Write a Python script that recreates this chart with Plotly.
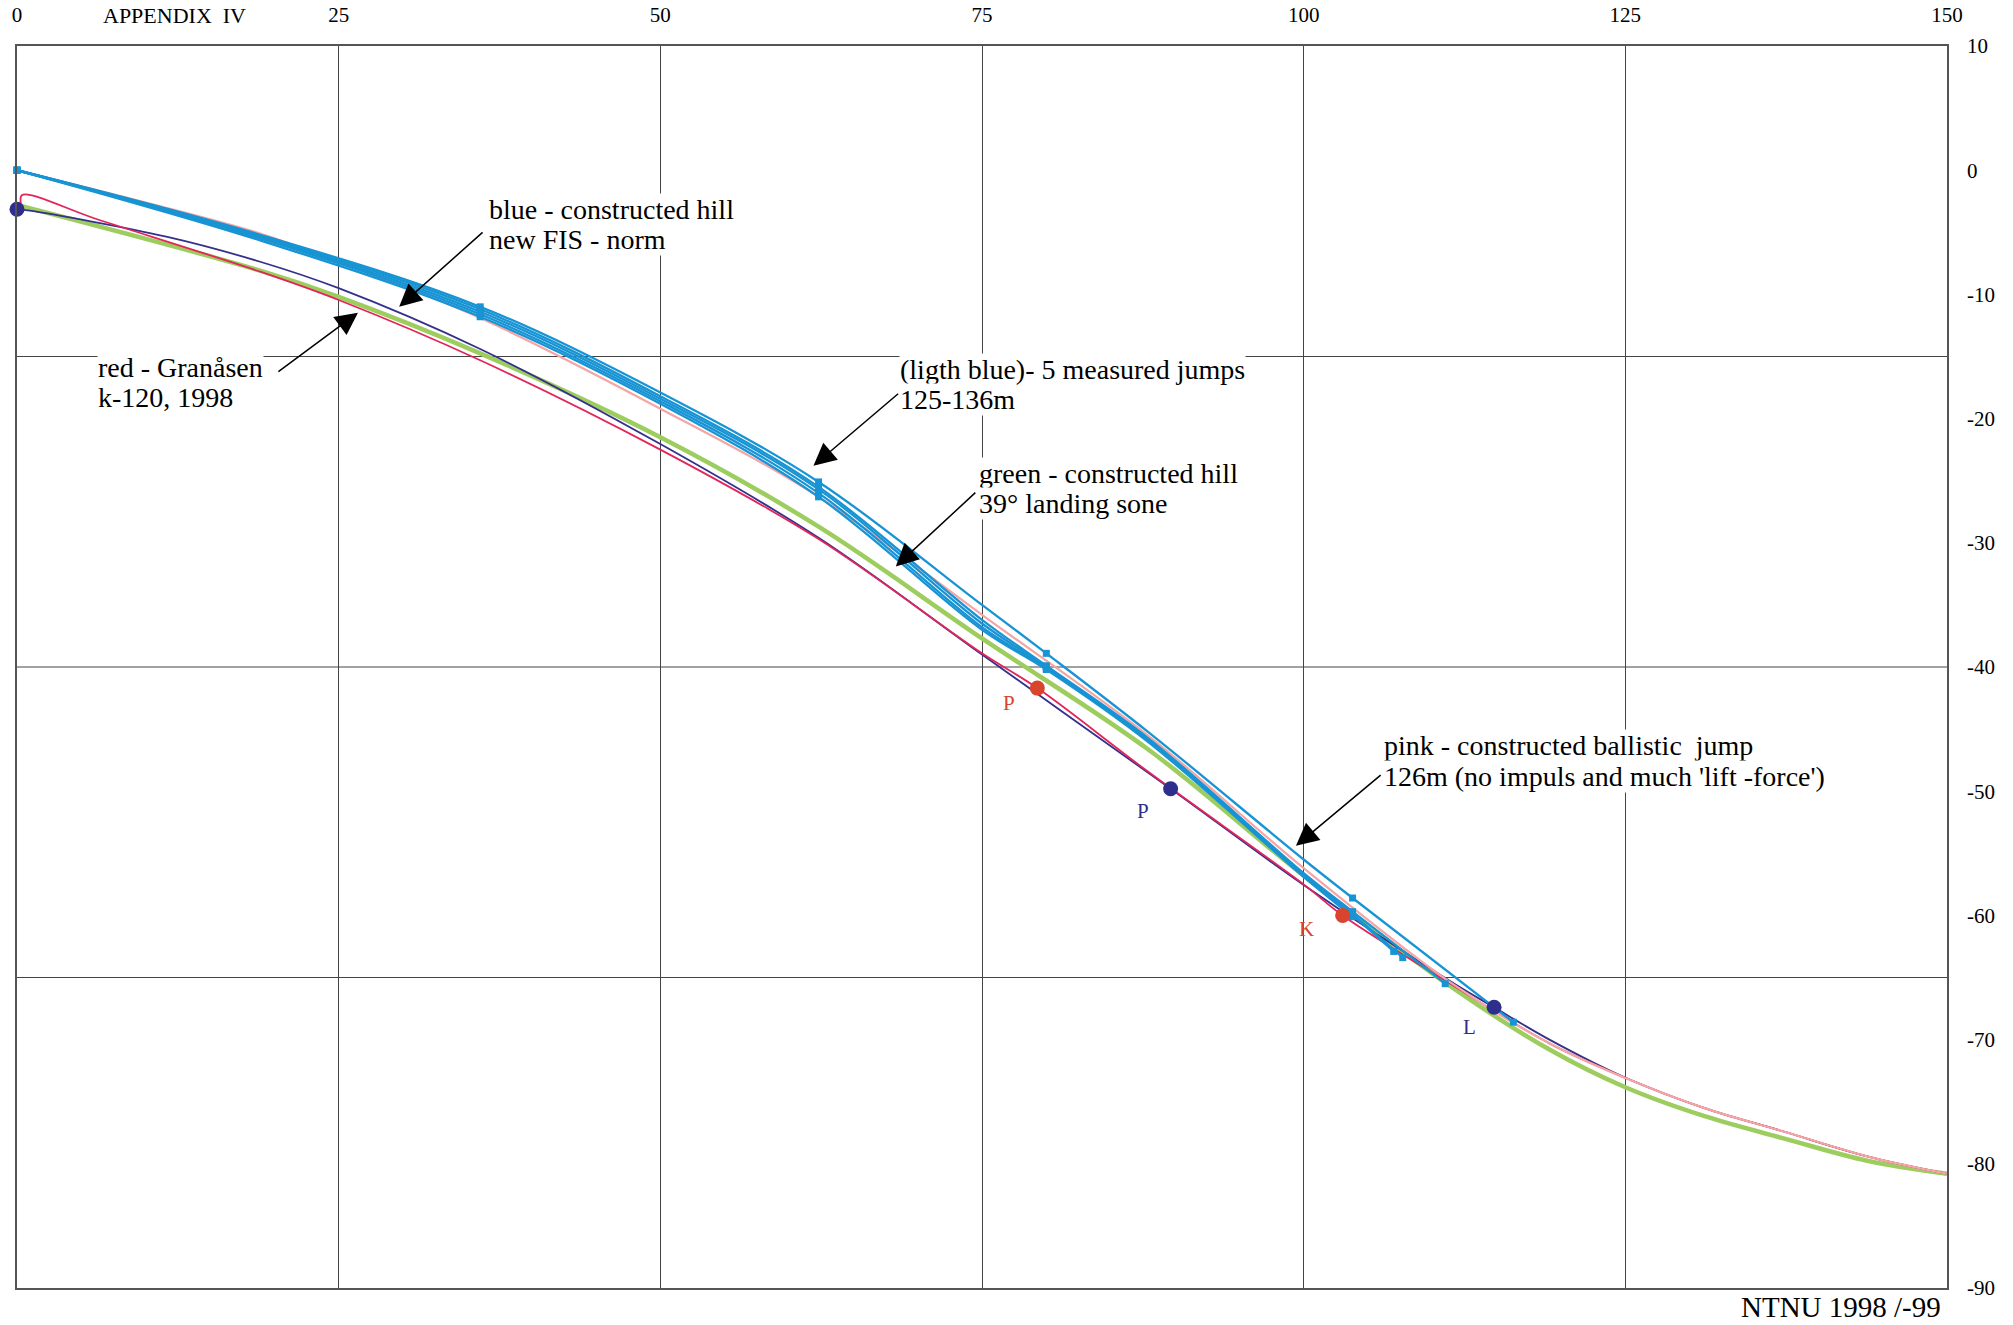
import plotly.graph_objects as go

# ---------------- data ----------------
# pink - constructed ballistic jump 126 m
pink_x = [0, 10, 18.9, 25, 36, 50, 62.3, 75, 88, 100, 111.4, 119.1, 125, 131.1, 137.3, 143.8, 150]
pink_y = [0, -2.6, -5.1, -7.4, -11.9, -19.2, -26.3, -35.8, -45.6, -56.2, -65.4, -70.3, -73.1, -75.5, -77.4, -79.4, -80.8]

# blue (navy) - constructed hill, new FIS norm
navy_x = [0, 1.0, 11.6, 18.9, 25, 36, 50, 62.3, 75, 89.66, 100, 111.4, 114.8, 119.1, 125, 131.1, 137.3, 143.8, 150]
navy_y = [-3.15, -3.26, -5.35, -7.37, -9.5, -14.4, -22.05, -29.6, -39.0, -49.8, -57.55, -65.3, -67.4, -70.0, -73.07, -75.5, -77.4, -79.4, -80.8]

# red - Granåsen k-120, 1998
red_x = [0.3, 0.4, 6.45, 18.9, 25, 36, 50, 62.3, 75, 79.3, 88, 100, 103.03, 111.4, 119.1, 125, 131.1, 137.3, 143.8, 150]
red_y = [-2.7, -2.0, -4.03, -8.17, -10.45, -15.3, -22.5, -29.7, -38.9, -41.7, -48.5, -57.5, -60.0, -65.5, -70.3, -73.07, -75.5, -77.4, -79.4, -80.8]

# green - constructed hill, 39 deg landing zone
green_x = [0, 18.9, 25, 36, 50, 62.3, 75, 88, 100, 111.4, 119.1, 125, 131.1, 137.3, 143.8, 150]
green_y = [-2.8, -8.09, -10.2, -14.75, -21.5, -28.7, -37.7, -46.7, -56.8, -65.7, -70.8, -73.84, -76.15, -77.95, -79.75, -80.8]

# light blue - 5 measured jumps (125-136 m)
jump_x = [
    [0, 18.9, 36, 50, 62.3, 75, 80, 88, 100, 103.8, 116.3],
    [0, 18.9, 36, 50, 62.3, 75, 80, 88, 100, 103.8, 111.0],
    [0, 18.9, 36, 50, 62.3, 75, 80, 88, 100, 103.8, 107.7],
    [0, 18.9, 36, 50, 62.3, 75, 80, 88, 100, 103.8, 107.0],
    [0, 18.9, 36, 50, 62.3, 75, 80, 88, 100, 103.8],
]
jump_y = [
    [0, -5.2, -11.0, -17.9, -25.1, -35.0, -38.9, -45.3, -55.5, -58.6, -68.6],
    [0, -5.3, -11.2, -18.2, -25.5, -36.2, -39.9, -45.8, -56.6, -59.7, -65.5],
    [0, -5.4, -11.4, -18.4, -25.7, -36.5, -40.0, -45.9, -56.7, -59.9, -63.4],
    [0, -5.5, -11.6, -18.6, -26.0, -36.8, -40.1, -46.0, -56.8, -60.0, -62.9],
    [0, -5.65, -11.8, -18.8, -26.3, -37.0, -40.2, -46.1, -56.9, -60.1],
]
# measured points with markers (indices into the jump arrays)
jump_marked = [0, 2, 4, 6, 9, 10]

# special points
navy_pts_x = [0, 89.66, 114.8]
navy_pts_y = [-3.15, -49.8, -67.4]
red_pts_x = [79.3, 103.03]
red_pts_y = [-41.7, -60.0]

point_labels = [
    ("P", 77.1, -42.9, "#d8442e"),
    ("P", 87.5, -51.6, "#2e2e8c"),
    ("K", 100.25, -61.1, "#d8442e"),
    ("L", 112.9, -69.0, "#2e2e8c"),
]

x_ticks = [0, 25, 50, 75, 100, 125, 150]
y_ticks = [10, 0, -10, -20, -30, -40, -50, -60, -70, -80, -90]
h_grid = [-15, -40, -65]

# annotation texts: (lines, x_left, y_line1, y_line2, arrow tail (x,y), arrow tip (x,y))
notes = [
    (["blue - constructed hill", "new FIS - norm"], 36.6, -3.16, -5.58, (36.3, -4.9), (29.7, -11.0)),
    (["red - Granåsen", "k-120, 1998"], 6.2, -15.92, -18.34, (20.2, -16.3), (26.5, -11.47)),
    (["(ligth blue)- 5 measured jumps", "125-136m"], 68.57, -16.08, -18.50, (68.6, -17.9), (61.9, -23.8)),
    (["green - constructed hill", "39° landing sone"], 74.71, -24.40, -26.82, (74.6, -25.85), (68.3, -31.9)),
    (["pink - constructed ballistic  jump", "126m (no impuls and much 'lift -force')"], 106.19, -46.36, -48.78, (106.1, -48.6), (99.4, -54.4)),
]

SERIF = "Liberation Serif, Times New Roman, serif"
C_LBLUE = "#1894d4"
C_NAVY = "#34308c"
C_RED = "#e2255a"
C_GREEN = "#9dcd5e"
C_PINK = "#f4a5a5"

fig = go.Figure()

fig.add_trace(go.Scatter(x=green_x, y=green_y, mode="lines",
                         line=dict(color=C_GREEN, width=4.5, shape="spline", smoothing=1)))
fig.add_trace(go.Scatter(x=navy_x, y=navy_y, mode="lines",
                         line=dict(color=C_NAVY, width=1.8, shape="spline", smoothing=1)))
fig.add_trace(go.Scatter(x=red_x, y=red_y, mode="lines",
                         line=dict(color=C_RED, width=1.8, shape="spline", smoothing=1)))
fig.add_trace(go.Scatter(x=pink_x, y=pink_y, mode="lines",
                         line=dict(color=C_PINK, width=2.2, shape="spline", smoothing=1)))

for jx, jy in zip(jump_x, jump_y):
    fig.add_trace(go.Scatter(x=jx, y=jy, mode="lines",
                             line=dict(color=C_LBLUE, width=2.3, shape="spline", smoothing=1)))
    mx = [jx[i] for i in jump_marked if i < len(jx)]
    my = [jy[i] for i in jump_marked if i < len(jy)]
    fig.add_trace(go.Scatter(x=mx, y=my, mode="markers", cliponaxis=False,
                             marker=dict(color=C_LBLUE, size=7, symbol="square")))

fig.add_trace(go.Scatter(x=navy_pts_x, y=navy_pts_y, mode="markers", cliponaxis=False,
                         marker=dict(color="#2e2e8c", size=15)))
fig.add_trace(go.Scatter(x=red_pts_x, y=red_pts_y, mode="markers", cliponaxis=False,
                         marker=dict(color="#d8442e", size=15)))

annotations = []
for txt, lx, ly, c in point_labels:
    annotations.append(dict(x=lx, y=ly, xref="x", yref="y", text=txt, showarrow=False,
                            font=dict(family=SERIF, size=21, color=c)))

for lines, tx, y1, y2, tail, tip in notes:
    annotations.append(dict(x=tip[0], y=tip[1], ax=tail[0], ay=tail[1], xref="x", yref="y",
                            axref="x", ayref="y", text="", showarrow=True, arrowhead=2,
                            arrowsize=3, arrowwidth=1.5, arrowcolor="black"))
    for t, yy in zip(lines, [y1, y2]):
        annotations.append(dict(x=tx, y=yy, xref="x", yref="y", text=t, showarrow=False,
                                xanchor="left", yanchor="middle", bgcolor="white",
                                borderpad=0,
                                font=dict(family=SERIF, size=28, color="black")))

annotations.append(dict(x=6.53, y=1.0246, xref="x", yref="paper", text="APPENDIX  IV",
                        showarrow=False, xanchor="left", yanchor="middle",
                        font=dict(family=SERIF, size=22, color="black")))
annotations.append(dict(x=149.65, y=-0.0153, xref="x", yref="paper", text="NTNU 1998 /-99",
                        showarrow=False, xanchor="right", yanchor="middle",
                        font=dict(family=SERIF, size=29, color="black")))

shapes = []
for hv in h_grid:
    shapes.append(dict(type="line", xref="paper", yref="y", x0=0, x1=1, y0=hv, y1=hv,
                       layer="below", line=dict(color="#444", width=1.2)))

fig.update_layout(
    width=2013, height=1325,
    margin=dict(l=17, r=66, t=46, b=37, autoexpand=False),
    paper_bgcolor="white", plot_bgcolor="white",
    showlegend=False, hovermode=False,
    annotations=annotations, shapes=shapes,
    xaxis=dict(range=[0, 150], side="top", tickvals=x_ticks,
               ticktext=[str(v) for v in x_ticks], automargin=False,
               showgrid=True, gridcolor="#444", gridwidth=1.2,
               showline=True, mirror=True, linecolor="#555", linewidth=1.5,
               ticks="", ticklabelstandoff=14, zeroline=False,
               tickfont=dict(family=SERIF, size=21, color="black")),
    yaxis=dict(range=[-90, 10], side="right", tickvals=y_ticks,
               ticktext=[str(v) for v in y_ticks], automargin=False,
               showgrid=False, showline=True, mirror=True, linecolor="#555", linewidth=1.5,
               ticks="", ticklabelstandoff=14, zeroline=False,
               tickfont=dict(family=SERIF, size=21, color="black")),
    yaxis2=dict(range=[-90, 10], overlaying="y", side="left", tickvals=y_ticks[1:-1],
                showticklabels=False, ticks="outside", ticklen=6, tickcolor="#555",
                automargin=False,
                showgrid=False, showline=False, zeroline=False),
)

# remove the default 8px page margin so the figure fills the window exactly
fig.write_html("out.html", config={"displayModeBar": False},
               post_script="document.body.style.margin='0';document.body.style.overflow='hidden';")
